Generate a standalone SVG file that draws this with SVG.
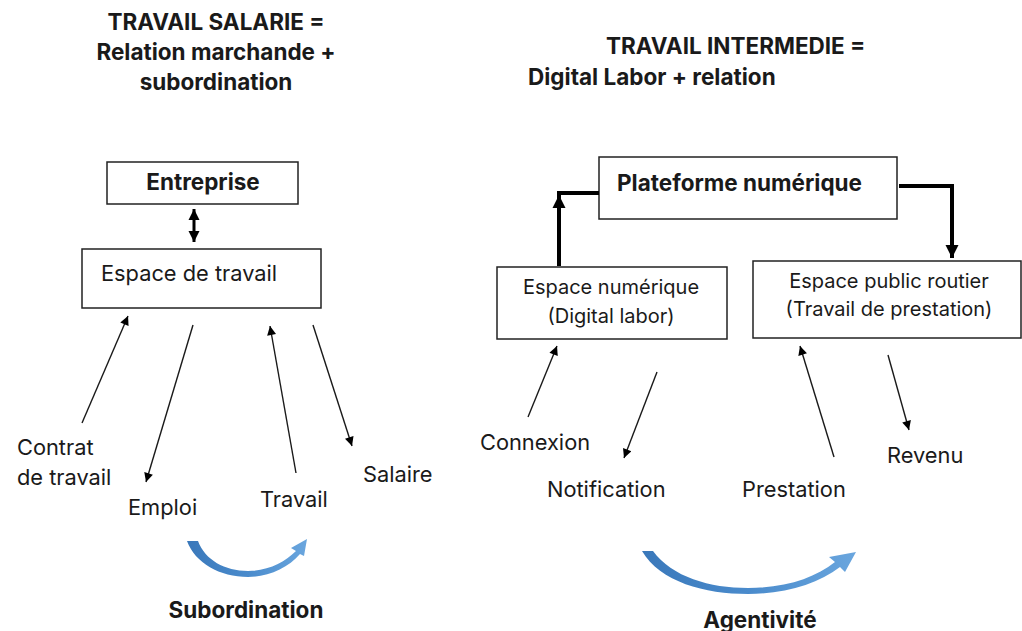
<svg xmlns="http://www.w3.org/2000/svg" width="1022" height="631" viewBox="0 0 1022 631">
<defs>
<style>
text{font-family:Inter,"Liberation Sans",Arial,sans-serif;fill:#1a1a1a}
.b{font-weight:bold;font-size:22.5px}
.t{font-size:21.8px}
.s{font-size:20px}
.box{fill:#fff;stroke:#222;stroke-width:1.5}
.thin{stroke:#1a1a1a;stroke-width:1.4;fill:none}
.thick{stroke:#000;stroke-width:4;fill:none}
</style>
<marker id="ah" viewBox="0 0 10 10" refX="10" refY="5" markerWidth="13" markerHeight="9" markerUnits="userSpaceOnUse" orient="auto"><path d="M0,0 L10,5 L0,10 z" fill="#000"/></marker>
<marker id="ahb" viewBox="0 0 10 10" refX="10" refY="5" markerWidth="13" markerHeight="15" markerUnits="userSpaceOnUse" orient="auto"><path d="M0,0 L10,5 L0,10 z" fill="#000"/></marker>
<marker id="ahd" viewBox="0 0 10 10" refX="10" refY="5" markerWidth="11" markerHeight="12" markerUnits="userSpaceOnUse" orient="auto-start-reverse"><path d="M0,0 L10,5 L0,10 z" fill="#000"/></marker>
<linearGradient id="blue" x1="0" y1="0" x2="1" y2="0">
<stop offset="0" stop-color="#3a78ba"/><stop offset="0.5" stop-color="#4a8bcc"/><stop offset="1" stop-color="#6aa6de"/>
</linearGradient>
</defs>

<g id="titles">
<text class="b" x="216" y="30" text-anchor="middle">TRAVAIL SALARIE =</text>
<text class="b" x="216" y="60" text-anchor="middle">Relation marchande +</text>
<text class="b" x="216" y="90" text-anchor="middle">subordination</text>
<text class="b" x="606" y="54">TRAVAIL INTERMEDIE =</text>
<text class="b" x="528" y="85">Digital Labor + relation</text>
</g>

<g id="entreprise"><rect class="box" x="107" y="162" width="191" height="42"/><text class="b" x="203" y="190" text-anchor="middle">Entreprise</text></g>
<g id="espace-travail"><rect class="box" x="82" y="249" width="239" height="59"/><text class="t" x="101" y="281">Espace de travail</text></g>
<g id="plateforme"><rect class="box" x="599" y="157" width="298" height="62"/><text class="b" x="617" y="191">Plateforme numérique</text></g>
<g id="espace-numerique"><rect class="box" x="497" y="267" width="230" height="72"/><text class="s" x="611" y="294" text-anchor="middle">Espace numérique</text><text class="s" x="611" y="323" text-anchor="middle">(Digital labor)</text></g>
<g id="espace-public"><rect class="box" x="753" y="261" width="268" height="77"/><text class="s" x="889" y="288" text-anchor="middle">Espace public routier</text><text class="s" x="889" y="316" text-anchor="middle">(Travail de prestation)</text></g>

<g id="labels">
<text class="t" x="17" y="455">Contrat</text>
<text class="t" x="17" y="485">de travail</text>
<text class="t" x="128" y="515">Emploi</text>
<text class="t" x="260" y="507">Travail</text>
<text class="t" x="363" y="482">Salaire</text>
<text class="t" x="480" y="450">Connexion</text>
<text class="t" x="547" y="497">Notification</text>
<text class="t" x="742" y="497">Prestation</text>
<text class="t" x="887" y="463">Revenu</text>
<text class="b" x="246" y="618" text-anchor="middle">Subordination</text>
<text class="b" x="760" y="628" text-anchor="middle">Agentivité</text>
</g>

<g id="connectors">
<line class="thick" x1="194" y1="209" x2="194" y2="242" style="stroke-width:3" marker-start="url(#ahd)" marker-end="url(#ahd)"/>
<line class="thin" x1="82" y1="423" x2="128" y2="316" marker-end="url(#ah)"/>
<line class="thin" x1="193" y1="325" x2="146" y2="482" marker-end="url(#ah)"/>
<line class="thin" x1="296" y1="473" x2="270" y2="326" marker-end="url(#ah)"/>
<line class="thin" x1="313" y1="325" x2="352" y2="446" marker-end="url(#ah)"/>
<line class="thin" x1="528" y1="417" x2="557" y2="346" marker-end="url(#ah)"/>
<line class="thin" x1="657" y1="372" x2="624" y2="458" marker-end="url(#ah)"/>
<line class="thin" x1="834" y1="457" x2="800" y2="346" marker-end="url(#ah)"/>
<line class="thin" x1="888" y1="355" x2="909" y2="430" marker-end="url(#ah)"/>
<line class="thick" x1="557" y1="193" x2="599" y2="193"/>
<line class="thick" x1="559" y1="266" x2="559" y2="195" marker-end="url(#ahb)"/>
<path class="thick" d="M899,186 H952 V258" marker-end="url(#ahb)"/>
<path fill="url(#blue)" d="M187,541 L198,541 C205,560 225,571 248,571 C268,571 285,562 296,551 L291,548 L307,539 L304,556 L300,554 C288,568 268,577 248,577 C220,577 195,563 187,541 Z"/>
<path fill="url(#blue)" d="M642,551 L653,551 C672,577 710,588 748,588 C785,588 815,578 835,562 L829,557 L856,552 L845,572 L840,567 C818,584 785,594 748,594 C705,594 660,582 642,551 Z"/>
</g>
</svg>
